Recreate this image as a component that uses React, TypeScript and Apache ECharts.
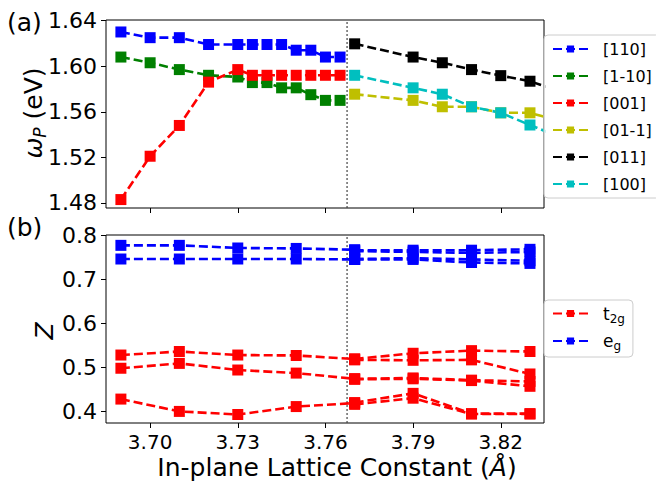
import React, { useEffect, useRef } from "react";
import * as echarts from "echarts";

const FONT = "DejaVu Sans";

// ---- panel (a) data ----
const xLeftA = [3.69, 3.70, 3.71, 3.72, 3.73, 3.735, 3.74, 3.745, 3.75, 3.755, 3.76, 3.765];
const w110 = [1.630, 1.625, 1.625, 1.619, 1.619, 1.619, 1.619, 1.619, 1.614, 1.614, 1.608, 1.608];
const w1m10 = [1.608, 1.603, 1.597, 1.592, 1.5905, 1.5856, 1.5856, 1.581, 1.581, 1.575, 1.570, 1.570];
const w001 = [1.483, 1.521, 1.548, 1.586, 1.597, 1.592, 1.592, 1.592, 1.592, 1.592, 1.592, 1.592];
const xRightA = [3.77, 3.79, 3.80, 3.81, 3.82, 3.83, 3.84];
const w01m1 = [1.5754, 1.570, 1.5644, 1.5644, 1.5591, 1.5591, 1.552];
const w011 = [1.6196, 1.608, 1.603, 1.597, 1.5917, 1.5868, 1.578];
const w100 = [1.592, 1.581, 1.5754, 1.5644, 1.5591, 1.5484, 1.538];

// ---- panel (b) data ----
const xLeftB = [3.69, 3.71, 3.73, 3.75, 3.77];
const t2gL1 = [0.528, 0.536, 0.528, 0.527, 0.519];
const t2gL2 = [0.498, 0.509, 0.494, 0.487, 0.474];
const t2gL3 = [0.428, 0.400, 0.393, 0.411, 0.419];
const egL1 = [0.777, 0.777, 0.771, 0.770, 0.767];
const egL2 = [0.746, 0.746, 0.746, 0.746, 0.745];
const xRightB = [3.77, 3.79, 3.81, 3.83];
const t2gR1 = [0.519, 0.532, 0.538, 0.536];
const t2gR2 = [0.517, 0.516, 0.517, 0.485];
const t2gR3 = [0.474, 0.476, 0.471, 0.468];
const t2gR4 = [0.473, 0.474, 0.470, 0.457];
const t2gR5 = [0.420, 0.441, 0.395, 0.395];
const t2gR6 = [0.416, 0.430, 0.394, 0.394];
const egR1 = [0.766, 0.766, 0.766, 0.768];
const egR2 = [0.764, 0.762, 0.760, 0.762];
const egR3 = [0.746, 0.748, 0.745, 0.742];
const egR4 = [0.745, 0.745, 0.738, 0.736];

const xTicks = [3.70, 3.73, 3.76, 3.79, 3.82];
const yTicksA = [1.48, 1.52, 1.56, 1.60, 1.64];
const yTicksB = [0.4, 0.5, 0.6, 0.7, 0.8];
const legendA = ["[110]", "[1-10]", "[001]", "[01-1]", "[011]", "[100]"];
const legendB = ["t2g", "eg"];
const divider = 3.7674;
const yRangeA = [1.4756, 1.6405];
const yRangeB = [0.3737, 0.8005];

const C = { b: "#0000ff", g: "#008000", r: "#ff0000", y: "#bfbf00", k: "#000000", c: "#00bfbf" };

function mk(name: string, xs: number[], ys: number[], color: string, idx: number) {
  return {
    type: "line",
    name,
    xAxisIndex: idx,
    yAxisIndex: idx,
    data: xs.map((x, i) => [x, ys[i]]),
    symbol: "rect",
    symbolSize: 11,
    lineStyle: { color, width: 2.6, type: [9, 4] },
    itemStyle: { color },
    clip: true,
  };
}

function divSeries(idx: number, range: number[]) {
  return {
    type: "line",
    name: "divider" + idx,
    xAxisIndex: idx,
    yAxisIndex: idx,
    data: range.map((y) => [divider, y]),
    symbol: "none",
    silent: true,
    z: 1,
    lineStyle: { color: "#444", width: 1.2, type: [2, 2] },
  };
}

export default function App() {
  const ref = useRef<HTMLDivElement>(null);
  useEffect(() => {
    const chart = echarts.init(ref.current!, null, { renderer: "svg" });
    const xAxisBase = (idx: number, showLabel: boolean) => ({
      type: "value",
      gridIndex: idx,
      min: 3.6849,
      max: 3.8348,
      axisLine: { show: false },
      splitLine: { show: false },
      axisTick: { show: true, length: 5, lineStyle: { color: "#000", width: 1 }, customValues: xTicks },
      axisLabel: {
        show: showLabel,
        customValues: xTicks,
        formatter: (v: number) => v.toFixed(2),
        fontFamily: FONT,
        fontSize: 20,
        color: "#000",
        margin: 9,
      },
    });
    const yAxisBase = (idx: number, range: number[], ticks: number[], dec: number) => ({
      type: "value",
      gridIndex: idx,
      min: range[0],
      max: range[1],
      axisLine: { show: false },
      splitLine: { show: false },
      axisTick: { show: true, length: 5, lineStyle: { color: "#000", width: 1 }, customValues: ticks },
      axisLabel: {
        customValues: ticks,
        formatter: (v: number) => v.toFixed(dec),
        fontFamily: FONT,
        fontSize: 22,
        color: "#000",
        margin: 9,
      },
    });
    const option: any = {
      animation: false,
      grid: [
        { left: 106, top: 20, width: 438, height: 188, show: true, borderColor: "#000", borderWidth: 1, backgroundColor: "transparent" },
        { left: 106, top: 235, width: 438, height: 188, show: true, borderColor: "#000", borderWidth: 1, backgroundColor: "transparent" },
      ],
      xAxis: [xAxisBase(0, false), xAxisBase(1, true)],
      yAxis: [yAxisBase(0, yRangeA, yTicksA, 2), yAxisBase(1, yRangeB, yTicksB, 1)],
      legend: [
        {
          data: legendA,
          orient: "vertical",
          left: 544,
          top: 35,
          itemWidth: 35,
          itemHeight: 9,
          itemGap: 11,
          padding: [6, 8, 6, 8],
          textStyle: { fontFamily: FONT, fontSize: 16, color: "#000", padding: [0, 0, 0, 10] },
          backgroundColor: "rgba(255,255,255,0.8)",
          borderColor: "#ccc",
          borderWidth: 1,
          borderRadius: 4,
        },
        {
          data: legendB,
          orient: "vertical",
          left: 544,
          top: 300,
          itemWidth: 35,
          itemHeight: 9,
          itemGap: 8,
          padding: [5, 8, 5, 8],
          formatter: (n: string) => (n === "t2g" ? "{m|t}{s|2g}" : "{m|e}{s|g}"),
          textStyle: {
            fontFamily: FONT,
            fontSize: 16,
            color: "#000",
            padding: [0, 0, 0, 10],
            rich: {
              m: { fontFamily: FONT, fontSize: 17, color: "#000", lineHeight: 22, verticalAlign: "middle" },
              s: { fontFamily: FONT, fontSize: 12, color: "#000", lineHeight: 12, verticalAlign: "bottom" },
            },
          },
          backgroundColor: "rgba(255,255,255,0.8)",
          borderColor: "#ccc",
          borderWidth: 1,
          borderRadius: 4,
        },
      ],
      series: [
        divSeries(0, yRangeA),
        divSeries(1, yRangeB),
        mk("[110]", xLeftA, w110, C.b, 0),
        mk("[1-10]", xLeftA, w1m10, C.g, 0),
        mk("[001]", xLeftA, w001, C.r, 0),
        mk("[01-1]", xRightA, w01m1, C.y, 0),
        mk("[011]", xRightA, w011, C.k, 0),
        mk("[100]", xRightA, w100, C.c, 0),
        mk("t2g", xLeftB, t2gL1, C.r, 1),
        mk("t2g", xLeftB, t2gL2, C.r, 1),
        mk("t2g", xLeftB, t2gL3, C.r, 1),
        mk("t2g", xRightB, t2gR1, C.r, 1),
        mk("t2g", xRightB, t2gR2, C.r, 1),
        mk("t2g", xRightB, t2gR3, C.r, 1),
        mk("t2g", xRightB, t2gR4, C.r, 1),
        mk("t2g", xRightB, t2gR5, C.r, 1),
        mk("t2g", xRightB, t2gR6, C.r, 1),
        mk("eg", xLeftB, egL1, C.b, 1),
        mk("eg", xLeftB, egL2, C.b, 1),
        mk("eg", xRightB, egR1, C.b, 1),
        mk("eg", xRightB, egR2, C.b, 1),
        mk("eg", xRightB, egR3, C.b, 1),
        mk("eg", xRightB, egR4, C.b, 1),
      ],
      graphic: [
        { type: "text", x: 7, y: 22, style: { text: "(a)", fontFamily: FONT, fontSize: 25, fill: "#000", align: "left", verticalAlign: "middle" } },
        { type: "text", x: 7, y: 227, style: { text: "(b)", fontFamily: FONT, fontSize: 25, fill: "#000", align: "left", verticalAlign: "middle" } },
        {
          type: "text",
          x: 33,
          y: 113,
          rotation: Math.PI / 2,
          style: {
            text: "{w|ω}{p|P}{n| (eV)}",
            align: "center",
            verticalAlign: "middle",
            rich: {
              w: { fontFamily: FONT, fontStyle: "italic", fontSize: 25, fill: "#000", lineHeight: 30, verticalAlign: "middle" },
              p: { fontFamily: FONT, fontStyle: "italic", fontSize: 17, fill: "#000", lineHeight: 16, verticalAlign: "bottom" },
              n: { fontFamily: FONT, fontSize: 25, fill: "#000", lineHeight: 30, verticalAlign: "middle" },
            },
          },
        },
        {
          type: "text",
          x: 44,
          y: 331,
          rotation: Math.PI / 2,
          style: { text: "Z", fontFamily: FONT, fontStyle: "italic", fontSize: 25, fill: "#000", align: "center", verticalAlign: "middle" },
        },
        {
          type: "text",
          x: 337,
          y: 467,
          style: {
            text: "{n|In-plane Lattice Constant (}{i|Å}{n|)}",
            align: "center",
            verticalAlign: "middle",
            rich: {
              n: { fontFamily: FONT, fontSize: 25, fill: "#000" },
              i: { fontFamily: FONT, fontStyle: "italic", fontSize: 25, fill: "#000" },
            },
          },
        },
      ],
    };
    chart.setOption(option);
    return () => chart.dispose();
  }, []);
  return <div ref={ref} style={{ width: 656, height: 483, position: "absolute", left: 0, top: 0 }} />;
}
